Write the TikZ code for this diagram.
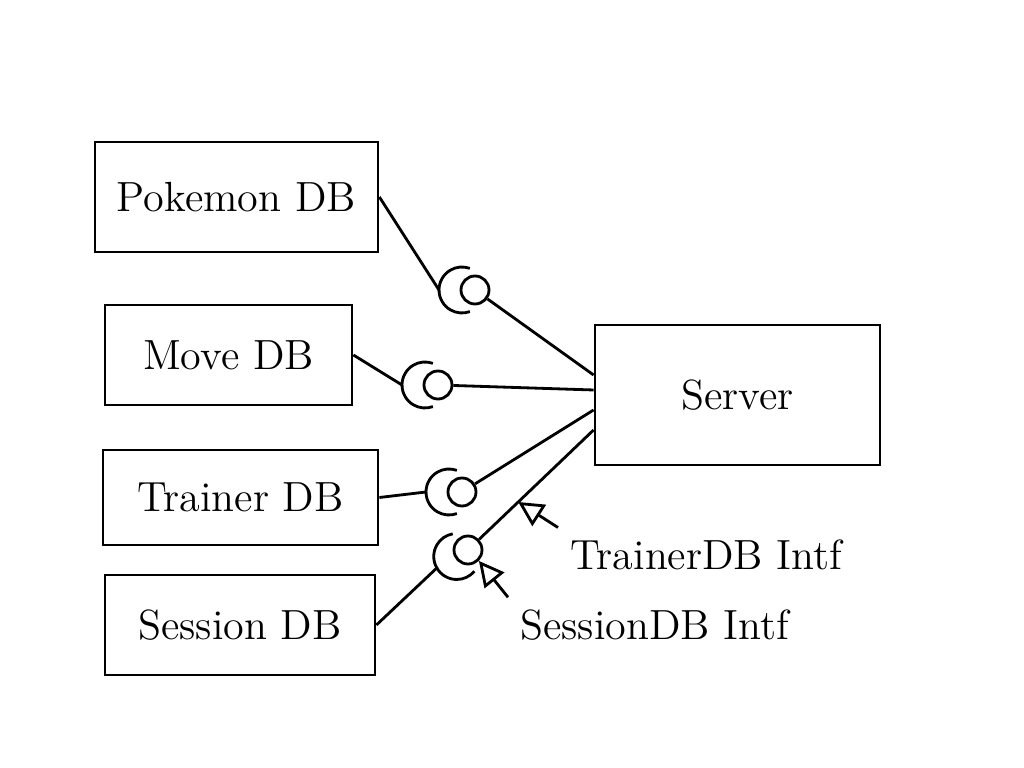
\documentclass[tikz,border=0pt]{standalone}
\usepackage{tikz}
\usetikzlibrary{arrows.meta,positioning,calc}
\tikzset{%
  dbbox/.style={draw,line width=0.8pt,align=center,inner sep=4pt},
  ball/.style={draw,circle,line width=0.8pt,minimum size=2.8mm,inner sep=0pt},
  conn/.style={line width=0.8pt},
  pointer/.style={-{Triangle[open,length=2.5mm,width=2.5mm]}, line width=0.8pt}%
}

\begin{document}
\begin{tikzpicture}[
    font=\large
]
\useasboundingbox (0,0) rectangle (10.24,7.68);

% Databases
\node[dbbox, minimum width=2.83cm, minimum height=1.10cm] (pokemon) at (2.365,5.71) {Pokemon DB};
\node[dbbox, minimum width=2.47cm, minimum height=1.00cm] (move) at (2.285,4.13) {Move DB};
\node[dbbox, minimum width=2.75cm, minimum height=0.95cm] (trainer) at (2.405,2.705) {Trainer DB};
\node[dbbox, minimum width=2.70cm, minimum height=1.00cm] (session) at (2.40,1.43) {Session DB};

% Server
\node[dbbox, minimum width=2.85cm, minimum height=1.40cm] (server) at (7.375,3.73) {Server};

% Interfaces (ball and socket)
\node[ball] (b1) at (4.75,4.78) {};
\node[ball] (b2) at (4.38,3.83) {};
\node[ball] (b3) at (4.62,2.76) {};
\node[ball] (b4) at (4.68,2.18) {};

\coordinate (k1) at ($(b1)+(180:0.36)$);
\coordinate (k2) at ($(b2)+(180:0.36)$);
\coordinate (k3) at ($(b3)+(180:0.36)$);
\coordinate (k4) at ($(b4)+(210:0.36)$);

\draw[conn] (pokemon.east) -- (k1) arc[start angle=180, end angle=70, radius=0.23];
\draw[conn] (k1) arc[start angle=180, end angle=290, radius=0.23];
\draw[conn] (move.east) -- (k2) arc[start angle=180, end angle=70, radius=0.23];
\draw[conn] (k2) arc[start angle=180, end angle=290, radius=0.23];
\draw[conn] (trainer.east) -- (k3) arc[start angle=180, end angle=70, radius=0.23];
\draw[conn] (k3) arc[start angle=180, end angle=290, radius=0.23];
\draw[conn] (session.east) -- (k4) arc[start angle=210, end angle=100, radius=0.23];
\draw[conn] (k4) arc[start angle=210, end angle=320, radius=0.23];

\coordinate (e1) at ([yshift=2mm]server.west);
\coordinate (e2) at ([yshift=0.5mm]server.west);
\coordinate (e3) at ([yshift=-1.5mm]server.west);
\coordinate (e4) at ([yshift=-3.5mm]server.west);

\draw[conn] (b1) -- (e1);
\draw[conn] (b2) -- (e2);
\draw[conn] (b3) -- (e3);
\draw[conn] (b4) -- (e4);

% Interface labels
\node[anchor=west] (trlabel) at (5.58,2.13) {TrainerDB Intf};
\node[anchor=west] (sslabel) at (5.08,1.43) {SessionDB Intf};

\coordinate (trtip) at ($(b4)!0.4!(e4)$);
\draw[pointer] (trlabel.north west) -- (trtip);
\draw[pointer] (sslabel.north west) -- (b4.south east);

\end{tikzpicture}
\end{document}
